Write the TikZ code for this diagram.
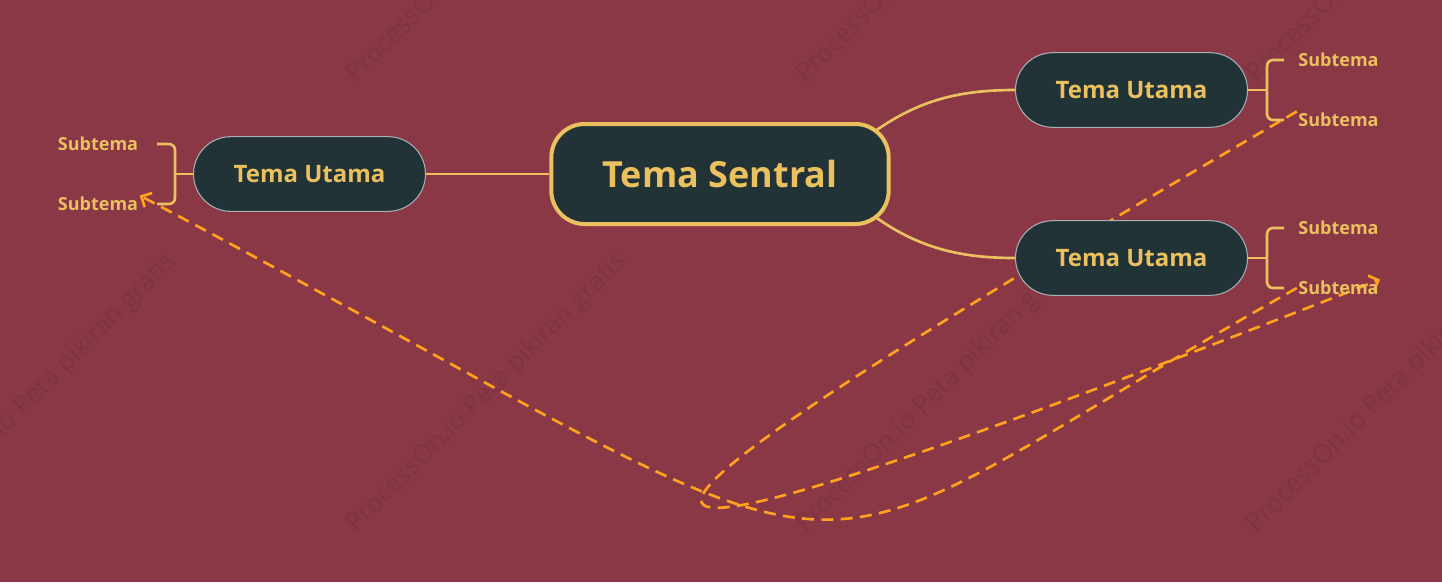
\documentclass[tikz,border=0pt]{standalone}
\usepackage{fontspec}
\setmainfont{Open Sans}
\usetikzlibrary{arrows.meta}

\definecolor{bgred}{HTML}{8A3746}
\definecolor{slate}{HTML}{223338}
\definecolor{gold}{HTML}{EBC05E}
\definecolor{amber}{HTML}{FFA21E}
\definecolor{pillline}{HTML}{A7AFB2}
\definecolor{wmark}{HTML}{7E3441}

\pgfdeclarelayer{backdrop}
\pgfdeclarelayer{links}
\pgfsetlayers{backdrop,links,main}

\begin{document}
\begin{tikzpicture}[x=0.75pt, y=-0.75pt,
    central/.style={draw=gold, line width=3pt, fill=slate, text=gold, rounded corners=25pt,
        minimum width=253pt, minimum height=75pt, font=\bfseries\fontsize{27}{32}\selectfont},
    maintopic/.style={draw=pillline, line width=0.8pt, fill=slate, text=gold, rounded corners=28pt,
        minimum width=174pt, minimum height=56pt, font=\bfseries\fontsize{18}{22}\selectfont},
    subtopic/.style={text=gold, inner sep=1pt, font=\bfseries\fontsize{13.5}{16}\selectfont},
    branch/.style={draw=gold, line width=2pt},
    relation/.style={draw=amber, line width=2pt, dash pattern=on 9pt off 5.5pt,
        -{Straight Barb[length=6pt,width=12pt]}},
    watermark/.style={text=wmark, rotate=45, anchor=base west, font=\fontsize{19.5}{23}\selectfont}
]
    \path[use as bounding box] (0,0) rectangle (1442,582);
    \clip (0,0) rectangle (1442,582);

    \begin{pgfonlayer}{backdrop}
        \fill[bgred] (0,0) rectangle (1442,582);
        % faint background stamp
        \foreach \wx in {-97,353,803,1253} {
            \foreach \wy in {87,537} {
                \node[watermark] (wm\wx\wy) at (\wx,\wy) {ProcessOn.io Peta pikiran gratis};
            }
        }
    \end{pgfonlayer}

    \node[central] (hub) at (720,174) {Tema Sentral};

    \node[maintopic] (lm) at (309.5,174) {Tema Utama};
    \node[maintopic] (rt) at (1131.5,90) {Tema Utama};
    \node[maintopic] (rb) at (1131.5,258) {Tema Utama};

    \node[subtopic] (ls1) at (98,144) {Subtema};
    \node[subtopic] (ls2) at (98,204) {Subtema};
    \node[subtopic] (rt1) at (1338.5,60) {Subtema};
    \node[subtopic] (rt2) at (1338.5,120) {Subtema};
    \node[subtopic] (rb1) at (1338.5,228) {Subtema};
    \node[subtopic] (rb2) at (1338.5,288) {Subtema};

    % branches from the centre
    \draw[branch] (hub.west) -- (lm.east);
    \draw[branch] ([shift={(-14,8)}]hub.north east) .. controls (920,100) and (960,90) .. (rt.west);
    \draw[branch] ([shift={(-14,-8)}]hub.south east) .. controls (920,248) and (960,258) .. (rb.west);

    % brackets
    \draw[branch] (lm.west) -- ++(-18,0) coordinate (lfork);
    \draw[branch, rounded corners=4.5pt] ([xshift=13pt]ls1.east) -| (lfork) |- ([xshift=13pt]ls2.east);
    \draw[branch] (rt.east) -- ++(19,0) coordinate (rtfork);
    \draw[branch, rounded corners=4.5pt] ([xshift=-9.5pt]rt1.west) -| (rtfork) |- ([xshift=-9.5pt]rt2.west);
    \draw[branch] (rb.east) -- ++(19,0) coordinate (rbfork);
    \draw[branch, rounded corners=4.5pt] ([xshift=-9.5pt]rb1.west) -| (rbfork) |- ([xshift=-9.5pt]rb2.west);

    % dashed relations, kept under the topics
    \begin{pgfonlayer}{links}
        \draw[relation] (rt2.north west) .. controls (480,585) and (500,625) .. (rb2.north east);
        \draw[relation] (rb2.west) .. controls (734,605) and (937,617) .. (ls2.north east);
    \end{pgfonlayer}
\end{tikzpicture}
\end{document}
